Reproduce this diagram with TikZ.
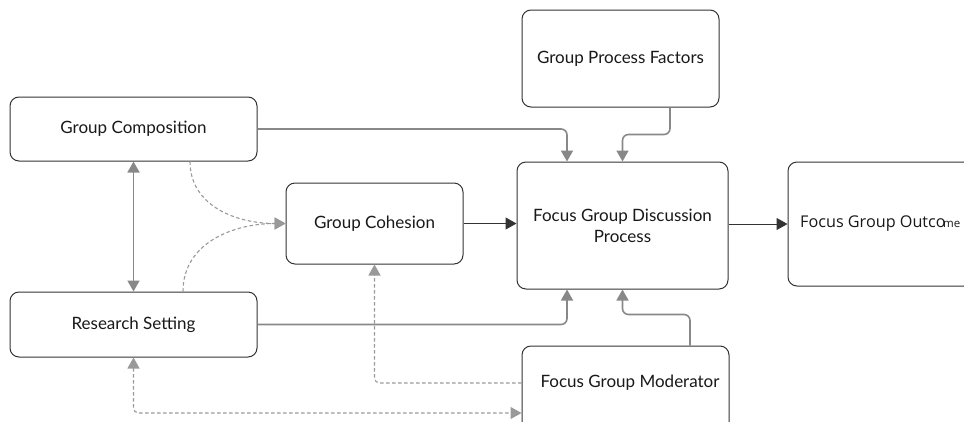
\documentclass[tikz,border=0pt]{standalone}
\usepackage{fontspec}
\setmainfont{Lato}
\newfontfamily\osans{Open Sans}
\usetikzlibrary{arrows.meta}
\definecolor{lgray}{HTML}{888888}
\definecolor{dgray}{HTML}{999999}
\definecolor{bord}{HTML}{333333}
\begin{document}
\begin{tikzpicture}[x=1pt,y=-1pt,
  box/.style={draw=bord, line width=1pt, rounded corners=9pt, fill=white, inner sep=0pt, font=\fontsize{17}{20}\selectfont, text=black!90},
  gline/.style={draw=lgray, line width=1.6pt, rounded corners=6pt, -{Triangle[length=11pt,width=12pt]}},
  dline/.style={draw=bord, line width=1pt, -{Triangle[length=11pt,width=12pt]}},
  dashline/.style={draw=dgray, line width=1.1pt, dash pattern=on 3.5pt off 2.5pt, rounded corners=5pt},
  plain/.style={inner sep=0pt, font=\fontsize{17}{20}\selectfont, text=black!90}
]
\useasboundingbox (0,0) rectangle (964,421);
\clip (0,0) rectangle (964,421);

\node[box, minimum width=247pt, minimum height=64pt] (gc) at (133.5,129) {Group Composition};
\node[box, minimum width=247pt, minimum height=65pt] (rs) at (133.5,324.5) {Research Setting};
\node[box, minimum width=177pt, minimum height=81pt] (coh) at (374.5,223.5) {Group Cohesion};
\node[box, minimum width=211pt, minimum height=127pt, align=center] (fgdp) at (622.5,225.5) {Focus Group Discussion\\[1pt]Process};
\node[box, minimum width=197pt, minimum height=97pt] (gpf) at (620.5,58.5) {Group Process Factors};
\node[box, minimum width=212pt, minimum height=124pt] (fgo) at (894,224) {};
\node[plain, anchor=west, font=\osans\fontsize{16.2}{19}\selectfont] (fgotext) at (800,224) {Focus Group Outco\kern-2.5pt{\fontsize{11.5}{13}\selectfont me}};
\node[box, minimum width=207pt, minimum height=94pt] (mod) at (625.5,393) {};
\node[plain] (modtext) at (630,383) {Focus Group Moderator};

% solid gray connectors
\draw[gline] (gc.east) -| ([xshift=-55.5pt]fgdp.north);
\draw[gline] ([xshift=49.5pt]gpf.south) -- ++(0,27) -| (fgdp.north);
\draw[gline] (rs.east) -| ([xshift=-55.5pt]fgdp.south);
\draw[gline] ([xshift=64.5pt]mod.north) -- ++(0,-31) -| (fgdp.south);
\draw[gline, {Triangle[length=11pt,width=12pt]}-{Triangle[length=11pt,width=12pt]}] (gc.south) -- (rs.north);

% dark connectors
\draw[dline] (coh.east) -- (fgdp.west |- coh.east);
\draw[dline] (fgo.west -| fgdp.east) -- (fgo.west);

% dashed connectors
\draw[dashline, -{Triangle[length=11pt,width=12pt]}] ([yshift=10pt]mod.west) -| (coh.south);
\draw[dashline, {Triangle[length=11pt,width=12pt]}-{Triangle[length=11pt,width=12pt]}] (rs.south) |- ([yshift=-20pt]mod.west);
\draw[dashline, -{Triangle[length=11pt,width=12pt]}] ([xshift=56.5pt]gc.south) .. controls (190,205) and (235,223.5) .. (coh.west);
\draw[dashline, -{Triangle[length=11pt,width=12pt]}] ([xshift=49.5pt]rs.north) .. controls (183,242) and (235,223.5) .. (coh.west);
\end{tikzpicture}
\end{document}
